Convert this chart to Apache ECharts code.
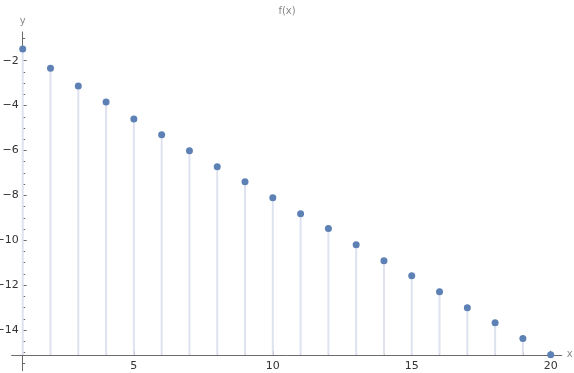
<!DOCTYPE html>
<html><head><meta charset="utf-8">
<script src="https://cdn.jsdelivr.net/npm/echarts@6/dist/echarts.min.js"></script>
<style>html,body{margin:0;padding:0;background:#fff}#c{width:574px;height:373px}</style>
</head><body><div id="c"></div>
<script>
const xValues = [1,2,3,4,5,6,7,8,9,10,11,12,13,14,15,16,17,18,19,20];
const yValues = [-1.48,-2.33,-3.13,-3.84,-4.60,-5.30,-6.01,-6.72,-7.39,-8.10,-8.82,-9.48,-10.20,-10.91,-11.58,-12.29,-13.00,-13.67,-14.38,-15.10];
const xMajorTicks = [5,10,15,20];
const xMinorTicks = [1,2,3,4,6,7,8,9,11,12,13,14,16,17,18,19];
const yMajorTicks = [-14,-12,-10,-8,-6,-4,-2];
const yMinorTicks = [-15.5,-15,-14.5,-13.5,-13,-12.5,-11.5,-11,-10.5,-9.5,-9,-8.5,-7.5,-7,-6.5,-5.5,-5,-4.5,-3.5,-3,-2.5,-1.5,-1];
const axisOriginY = -15.10;

const points = xValues.map((x,i)=>[x,yValues[i]]);
const X_MIN=0.6, X_MAX=20.4, Y_MIN=-15.81, Y_MAX=-0.72;
const axisColor='#6b6b6b';
const fmt = v => String(v).replace('-', '\u2212');

const chart = echarts.init(document.getElementById('c'), null, {renderer:'canvas'});
const xAx = (extra)=>Object.assign({type:'value', position:'bottom', min:X_MIN, max:X_MAX, gridIndex:0, offset:-15.9,
  splitLine:{show:false}}, extra);
const yAx = (extra)=>Object.assign({type:'value', position:'left', min:Y_MIN, max:Y_MAX, gridIndex:0, offset:-11.1,
  splitLine:{show:false}}, extra);
chart.setOption({
  animation:false,
  title:{text:'f(x)', left:'center', top:1, textStyle:{fontSize:10, fontWeight:'normal', color:'#888', fontFamily:'DejaVu Sans'}},
  grid:{left:11.6, right:12.2, top:32, bottom:2.3, containLabel:false, outerBoundsMode:'none'},
  xAxis:[
    xAx({name:'x', nameLocation:'end', nameGap:5, nameTextStyle:{color:'#888', fontSize:10, fontFamily:'DejaVu Sans'},
      axisLine:{show:true, lineStyle:{color:axisColor, width:1}},
      axisTick:{show:true, inside:true, length:4, customValues:xMajorTicks, lineStyle:{color:axisColor}},
      axisLabel:{show:true, customValues:xMajorTicks, margin:6, fontSize:11, color:'#333', fontFamily:'DejaVu Sans', formatter:fmt}}),
    xAx({axisLine:{show:false},
      axisTick:{show:true, inside:true, length:2.5, customValues:xMinorTicks, lineStyle:{color:axisColor}},
      axisLabel:{show:false}})
  ],
  yAxis:[
    yAx({name:'y', nameLocation:'end', nameGap:6, nameTextStyle:{color:'#888', fontSize:10, fontFamily:'DejaVu Sans', align:'center'},
      axisLine:{show:true, lineStyle:{color:axisColor, width:1}},
      axisTick:{show:true, inside:true, length:4, customValues:yMajorTicks, lineStyle:{color:axisColor}},
      axisLabel:{show:true, customValues:yMajorTicks, margin:4, fontSize:11, color:'#333', fontFamily:'DejaVu Sans', formatter:fmt}}),
    yAx({axisLine:{show:false},
      axisTick:{show:true, inside:true, length:2.5, customValues:yMinorTicks, lineStyle:{color:axisColor}},
      axisLabel:{show:false}})
  ],
  series:[
    {type:'custom', xAxisIndex:0, yAxisIndex:0, data:points, z:1,
      renderItem:(params, api)=>{
        const x=api.value(0), y=api.value(1);
        const p1=api.coord([x,y]), p0=api.coord([x,axisOriginY]);
        return {type:'line', shape:{x1:p0[0], y1:p0[1], x2:p1[0], y2:p1[1]},
          style:{stroke:'#dfe2ef', lineWidth:2}};
      }},
    {type:'scatter', xAxisIndex:0, yAxisIndex:0, data:points, symbol:'circle', symbolSize:7, z:3,
      itemStyle:{color:'#5E81B5', opacity:1}}
  ]
});
</script></body></html>
